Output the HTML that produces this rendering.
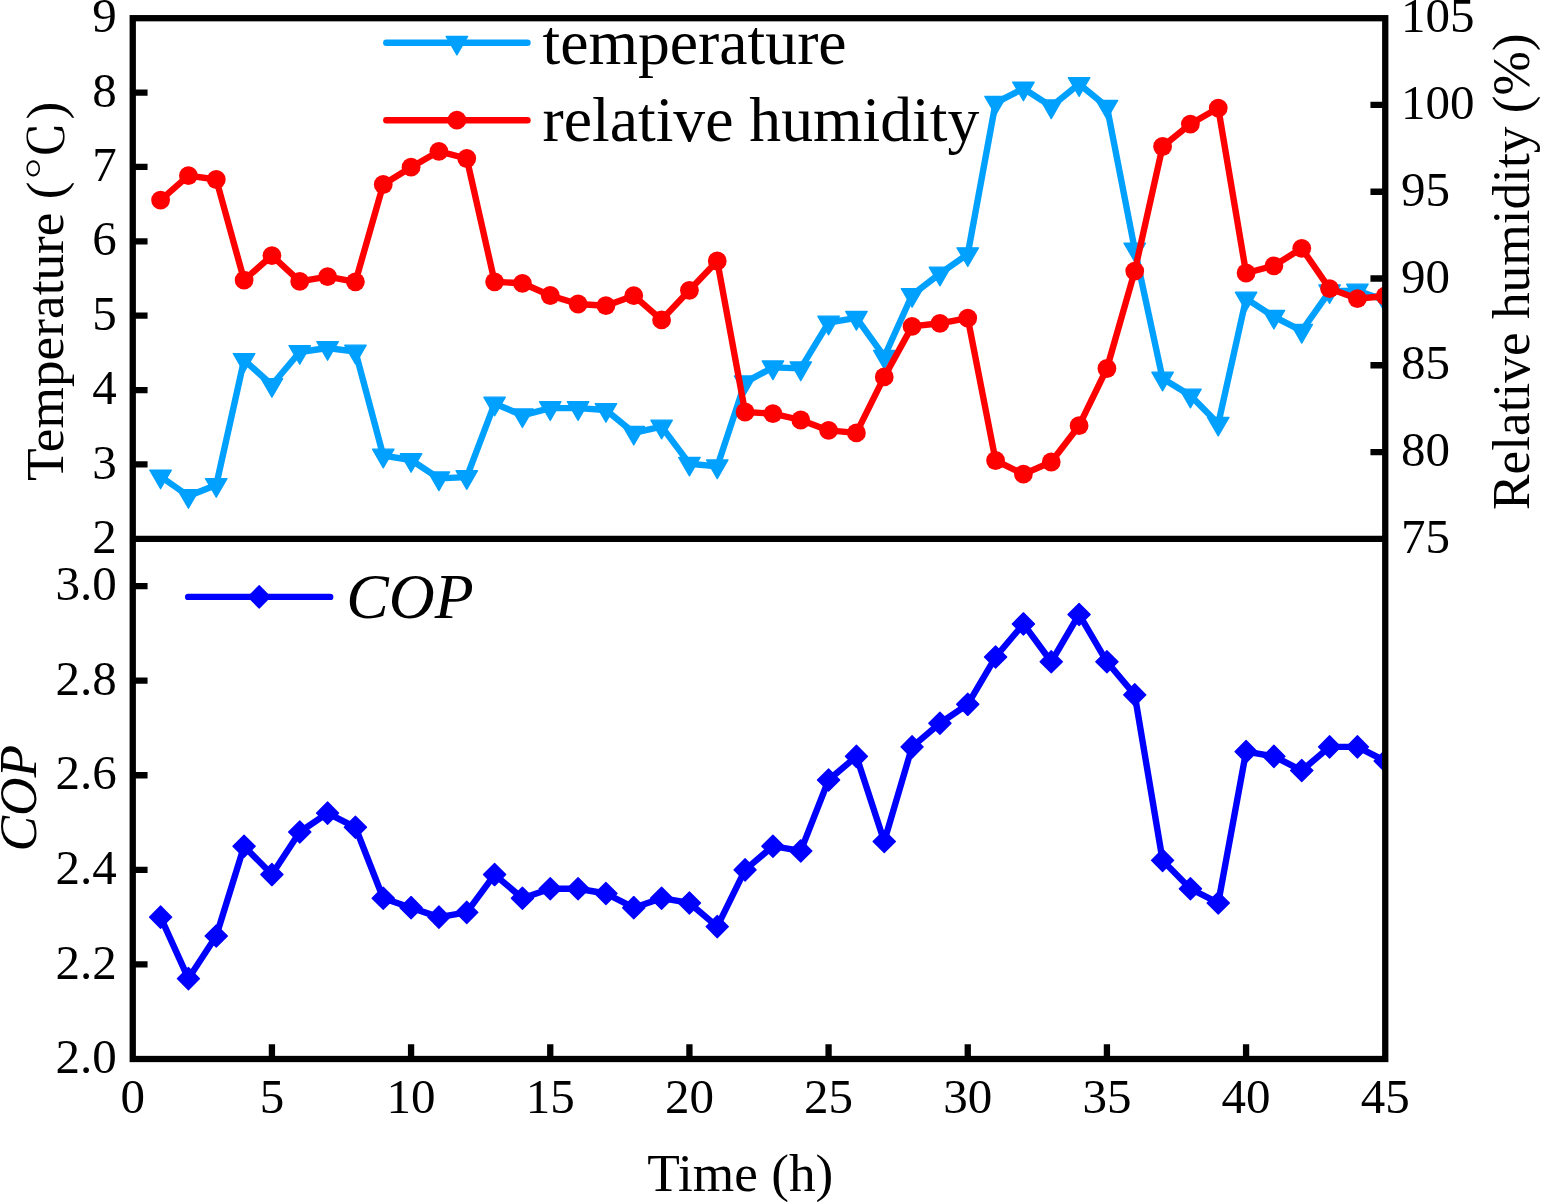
<!DOCTYPE html>
<html lang="en"><head><meta charset="utf-8"><title>Temperature, relative humidity and COP versus time</title>
<style>html,body{margin:0;padding:0;background:#fff}body{width:1541px;height:1202px;overflow:hidden}svg{display:block}text{font-family:"Liberation Serif","Noto Serif CJK SC",serif;fill:#000}.tk{font-size:49px}.ax{font-size:53.3px}.lg{font-size:63.7px}.it{font-style:italic}</style></head><body>
<svg width="1541" height="1202" viewBox="0 0 1541 1202">
<rect width="1541" height="1202" fill="#fff"/>
<defs><clipPath id="c1"><rect x="132.75" y="18.2" width="1252.5" height="520.6"/></clipPath><clipPath id="c2"><rect x="132.75" y="538.8" width="1252.5" height="520.2"/></clipPath></defs>
<g clip-path="url(#c1)">
<polyline points="160.58,476.5 188.42,496 216.25,485 244.08,360 271.92,385 299.75,352 327.58,348 355.42,351.6 383.25,455.6 411.08,460 438.92,478.4 466.75,477.1 494.58,403.6 522.42,415.3 550.25,408.1 578.08,408.1 605.92,410 633.75,432.8 661.58,426.6 689.42,463.7 717.25,466.4 745.08,382.4 772.92,367.4 800.75,368.4 828.58,322.6 856.42,317.9 884.25,356.7 912.08,295 939.92,273.6 967.75,254.2 995.58,102.8 1023.42,88.5 1051.25,106.4 1079.08,84.1 1106.92,106.7 1134.75,249.5 1162.58,378.6 1190.42,395.6 1218.25,423.8 1246.08,298.6 1273.92,316.7 1301.75,330.9 1329.58,291.3 1357.42,290.6 1385.25,300.6" fill="none" stroke="#00a0ff" stroke-width="6.4" stroke-linejoin="round" stroke-linecap="round"/>
<g fill="#00a0ff" stroke="#00a0ff" stroke-width="1.3" stroke-linejoin="round"><path d="M149.83 470.1L171.33 470.1L160.58 488.7Z"/><path d="M177.67 489.6L199.17 489.6L188.42 508.2Z"/><path d="M205.5 478.6L227 478.6L216.25 497.2Z"/><path d="M233.33 353.6L254.83 353.6L244.08 372.2Z"/><path d="M261.17 378.6L282.67 378.6L271.92 397.2Z"/><path d="M289 345.6L310.5 345.6L299.75 364.2Z"/><path d="M316.83 341.6L338.33 341.6L327.58 360.2Z"/><path d="M344.67 345.2L366.17 345.2L355.42 363.8Z"/><path d="M372.5 449.2L394 449.2L383.25 467.8Z"/><path d="M400.33 453.6L421.83 453.6L411.08 472.2Z"/><path d="M428.17 472L449.67 472L438.92 490.6Z"/><path d="M456 470.7L477.5 470.7L466.75 489.3Z"/><path d="M483.83 397.2L505.33 397.2L494.58 415.8Z"/><path d="M511.67 408.9L533.17 408.9L522.42 427.5Z"/><path d="M539.5 401.7L561 401.7L550.25 420.3Z"/><path d="M567.33 401.7L588.83 401.7L578.08 420.3Z"/><path d="M595.17 403.6L616.67 403.6L605.92 422.2Z"/><path d="M623 426.4L644.5 426.4L633.75 445Z"/><path d="M650.83 420.2L672.33 420.2L661.58 438.8Z"/><path d="M678.67 457.3L700.17 457.3L689.42 475.9Z"/><path d="M706.5 460L728 460L717.25 478.6Z"/><path d="M734.33 376L755.83 376L745.08 394.6Z"/><path d="M762.17 361L783.67 361L772.92 379.6Z"/><path d="M790 362L811.5 362L800.75 380.6Z"/><path d="M817.83 316.2L839.33 316.2L828.58 334.8Z"/><path d="M845.67 311.5L867.17 311.5L856.42 330.1Z"/><path d="M873.5 350.3L895 350.3L884.25 368.9Z"/><path d="M901.33 288.6L922.83 288.6L912.08 307.2Z"/><path d="M929.17 267.2L950.67 267.2L939.92 285.8Z"/><path d="M957 247.8L978.5 247.8L967.75 266.4Z"/><path d="M984.83 96.4L1006.33 96.4L995.58 115Z"/><path d="M1012.67 82.1L1034.17 82.1L1023.42 100.7Z"/><path d="M1040.5 100L1062 100L1051.25 118.6Z"/><path d="M1068.33 77.7L1089.83 77.7L1079.08 96.3Z"/><path d="M1096.17 100.3L1117.67 100.3L1106.92 118.9Z"/><path d="M1124 243.1L1145.5 243.1L1134.75 261.7Z"/><path d="M1151.83 372.2L1173.33 372.2L1162.58 390.8Z"/><path d="M1179.67 389.2L1201.17 389.2L1190.42 407.8Z"/><path d="M1207.5 417.4L1229 417.4L1218.25 436Z"/><path d="M1235.33 292.2L1256.83 292.2L1246.08 310.8Z"/><path d="M1263.17 310.3L1284.67 310.3L1273.92 328.9Z"/><path d="M1291 324.5L1312.5 324.5L1301.75 343.1Z"/><path d="M1318.83 284.9L1340.33 284.9L1329.58 303.5Z"/><path d="M1346.67 284.2L1368.17 284.2L1357.42 302.8Z"/><path d="M1374.5 294.2L1396 294.2L1385.25 312.8Z"/></g>
<polyline points="160.58,200.1 188.42,175.7 216.25,179.5 244.08,280.1 271.92,255.6 299.75,281.4 327.58,276.6 355.42,281.8 383.25,184.5 411.08,167.2 438.92,151.3 466.75,158.5 494.58,281.8 522.42,283.3 550.25,295.5 578.08,304 605.92,305.7 633.75,295.7 661.58,319.9 689.42,290.3 717.25,261 745.08,412 772.92,413.7 800.75,420 828.58,430.4 856.42,432.9 884.25,376.9 912.08,326.4 939.92,323.3 967.75,318.1 995.58,460.5 1023.42,474.1 1051.25,462 1079.08,425.7 1106.92,368.5 1134.75,271.1 1162.58,146.5 1190.42,124.1 1218.25,108.1 1246.08,273 1273.92,265.8 1301.75,248.3 1329.58,288.6 1357.42,298.7 1385.25,296" fill="none" stroke="#ff0000" stroke-width="6.4" stroke-linejoin="round" stroke-linecap="round"/>
<circle cx="160.58" cy="200.1" r="9.4" fill="#ff0000"/><circle cx="188.42" cy="175.7" r="9.4" fill="#ff0000"/><circle cx="216.25" cy="179.5" r="9.4" fill="#ff0000"/><circle cx="244.08" cy="280.1" r="9.4" fill="#ff0000"/><circle cx="271.92" cy="255.6" r="9.4" fill="#ff0000"/><circle cx="299.75" cy="281.4" r="9.4" fill="#ff0000"/><circle cx="327.58" cy="276.6" r="9.4" fill="#ff0000"/><circle cx="355.42" cy="281.8" r="9.4" fill="#ff0000"/><circle cx="383.25" cy="184.5" r="9.4" fill="#ff0000"/><circle cx="411.08" cy="167.2" r="9.4" fill="#ff0000"/><circle cx="438.92" cy="151.3" r="9.4" fill="#ff0000"/><circle cx="466.75" cy="158.5" r="9.4" fill="#ff0000"/><circle cx="494.58" cy="281.8" r="9.4" fill="#ff0000"/><circle cx="522.42" cy="283.3" r="9.4" fill="#ff0000"/><circle cx="550.25" cy="295.5" r="9.4" fill="#ff0000"/><circle cx="578.08" cy="304" r="9.4" fill="#ff0000"/><circle cx="605.92" cy="305.7" r="9.4" fill="#ff0000"/><circle cx="633.75" cy="295.7" r="9.4" fill="#ff0000"/><circle cx="661.58" cy="319.9" r="9.4" fill="#ff0000"/><circle cx="689.42" cy="290.3" r="9.4" fill="#ff0000"/><circle cx="717.25" cy="261" r="9.4" fill="#ff0000"/><circle cx="745.08" cy="412" r="9.4" fill="#ff0000"/><circle cx="772.92" cy="413.7" r="9.4" fill="#ff0000"/><circle cx="800.75" cy="420" r="9.4" fill="#ff0000"/><circle cx="828.58" cy="430.4" r="9.4" fill="#ff0000"/><circle cx="856.42" cy="432.9" r="9.4" fill="#ff0000"/><circle cx="884.25" cy="376.9" r="9.4" fill="#ff0000"/><circle cx="912.08" cy="326.4" r="9.4" fill="#ff0000"/><circle cx="939.92" cy="323.3" r="9.4" fill="#ff0000"/><circle cx="967.75" cy="318.1" r="9.4" fill="#ff0000"/><circle cx="995.58" cy="460.5" r="9.4" fill="#ff0000"/><circle cx="1023.42" cy="474.1" r="9.4" fill="#ff0000"/><circle cx="1051.25" cy="462" r="9.4" fill="#ff0000"/><circle cx="1079.08" cy="425.7" r="9.4" fill="#ff0000"/><circle cx="1106.92" cy="368.5" r="9.4" fill="#ff0000"/><circle cx="1134.75" cy="271.1" r="9.4" fill="#ff0000"/><circle cx="1162.58" cy="146.5" r="9.4" fill="#ff0000"/><circle cx="1190.42" cy="124.1" r="9.4" fill="#ff0000"/><circle cx="1218.25" cy="108.1" r="9.4" fill="#ff0000"/><circle cx="1246.08" cy="273" r="9.4" fill="#ff0000"/><circle cx="1273.92" cy="265.8" r="9.4" fill="#ff0000"/><circle cx="1301.75" cy="248.3" r="9.4" fill="#ff0000"/><circle cx="1329.58" cy="288.6" r="9.4" fill="#ff0000"/><circle cx="1357.42" cy="298.7" r="9.4" fill="#ff0000"/><circle cx="1385.25" cy="296" r="9.4" fill="#ff0000"/>
</g>
<g clip-path="url(#c2)">
<polyline points="160.58,917.13 188.42,978.61 216.25,936.05 244.08,846.19 271.92,874.57 299.75,832.01 327.58,813.09 355.42,827.28 383.25,898.21 411.08,907.67 438.92,917.13 466.75,912.4 494.58,874.57 522.42,898.21 550.25,888.76 578.08,888.76 605.92,893.48 633.75,907.67 661.58,898.21 689.42,902.94 717.25,926.59 745.08,869.84 772.92,846.19 800.75,850.92 828.58,779.99 856.42,756.34 884.25,841.47 912.08,746.89 939.92,723.24 967.75,704.33 995.58,657.03 1023.42,623.93 1051.25,661.76 1079.08,614.47 1106.92,661.76 1134.75,694.87 1162.58,860.38 1190.42,888.76 1218.25,902.94 1246.08,751.62 1273.92,756.34 1301.75,770.53 1329.58,746.89 1357.42,746.89 1385.25,761.07" fill="none" stroke="#0000ff" stroke-width="6.4" stroke-linejoin="round" stroke-linecap="round"/>
<g fill="#0000ff" stroke="#0000ff" stroke-width="1.3" stroke-linejoin="round"><path d="M160.58 906.03L171.68 917.13L160.58 928.23L149.48 917.13Z"/><path d="M188.42 967.51L199.52 978.61L188.42 989.71L177.32 978.61Z"/><path d="M216.25 924.95L227.35 936.05L216.25 947.15L205.15 936.05Z"/><path d="M244.08 835.09L255.18 846.19L244.08 857.29L232.98 846.19Z"/><path d="M271.92 863.47L283.02 874.57L271.92 885.67L260.82 874.57Z"/><path d="M299.75 820.91L310.85 832.01L299.75 843.11L288.65 832.01Z"/><path d="M327.58 801.99L338.68 813.09L327.58 824.19L316.48 813.09Z"/><path d="M355.42 816.18L366.52 827.28L355.42 838.38L344.32 827.28Z"/><path d="M383.25 887.11L394.35 898.21L383.25 909.31L372.15 898.21Z"/><path d="M411.08 896.57L422.18 907.67L411.08 918.77L399.98 907.67Z"/><path d="M438.92 906.03L450.02 917.13L438.92 928.23L427.82 917.13Z"/><path d="M466.75 901.3L477.85 912.4L466.75 923.5L455.65 912.4Z"/><path d="M494.58 863.47L505.68 874.57L494.58 885.67L483.48 874.57Z"/><path d="M522.42 887.11L533.52 898.21L522.42 909.31L511.32 898.21Z"/><path d="M550.25 877.66L561.35 888.76L550.25 899.86L539.15 888.76Z"/><path d="M578.08 877.66L589.18 888.76L578.08 899.86L566.98 888.76Z"/><path d="M605.92 882.38L617.02 893.48L605.92 904.58L594.82 893.48Z"/><path d="M633.75 896.57L644.85 907.67L633.75 918.77L622.65 907.67Z"/><path d="M661.58 887.11L672.68 898.21L661.58 909.31L650.48 898.21Z"/><path d="M689.42 891.84L700.52 902.94L689.42 914.04L678.32 902.94Z"/><path d="M717.25 915.49L728.35 926.59L717.25 937.69L706.15 926.59Z"/><path d="M745.08 858.74L756.18 869.84L745.08 880.94L733.98 869.84Z"/><path d="M772.92 835.09L784.02 846.19L772.92 857.29L761.82 846.19Z"/><path d="M800.75 839.82L811.85 850.92L800.75 862.02L789.65 850.92Z"/><path d="M828.58 768.89L839.68 779.99L828.58 791.09L817.48 779.99Z"/><path d="M856.42 745.24L867.52 756.34L856.42 767.44L845.32 756.34Z"/><path d="M884.25 830.37L895.35 841.47L884.25 852.57L873.15 841.47Z"/><path d="M912.08 735.79L923.18 746.89L912.08 757.99L900.98 746.89Z"/><path d="M939.92 712.14L951.02 723.24L939.92 734.34L928.82 723.24Z"/><path d="M967.75 693.23L978.85 704.33L967.75 715.43L956.65 704.33Z"/><path d="M995.58 645.93L1006.68 657.03L995.58 668.13L984.48 657.03Z"/><path d="M1023.42 612.83L1034.52 623.93L1023.42 635.03L1012.32 623.93Z"/><path d="M1051.25 650.66L1062.35 661.76L1051.25 672.86L1040.15 661.76Z"/><path d="M1079.08 603.37L1090.18 614.47L1079.08 625.57L1067.98 614.47Z"/><path d="M1106.92 650.66L1118.02 661.76L1106.92 672.86L1095.82 661.76Z"/><path d="M1134.75 683.77L1145.85 694.87L1134.75 705.97L1123.65 694.87Z"/><path d="M1162.58 849.28L1173.68 860.38L1162.58 871.48L1151.48 860.38Z"/><path d="M1190.42 877.66L1201.52 888.76L1190.42 899.86L1179.32 888.76Z"/><path d="M1218.25 891.84L1229.35 902.94L1218.25 914.04L1207.15 902.94Z"/><path d="M1246.08 740.51L1257.18 751.62L1246.08 762.72L1234.98 751.62Z"/><path d="M1273.92 745.24L1285.02 756.34L1273.92 767.44L1262.82 756.34Z"/><path d="M1301.75 759.43L1312.85 770.53L1301.75 781.63L1290.65 770.53Z"/><path d="M1329.58 735.79L1340.68 746.89L1329.58 757.99L1318.48 746.89Z"/><path d="M1357.42 735.79L1368.52 746.89L1357.42 757.99L1346.32 746.89Z"/><path d="M1385.25 749.97L1396.35 761.07L1385.25 772.17L1374.15 761.07Z"/></g>
</g>
<line x1="386.3" y1="42.7" x2="527.5" y2="42.7" stroke="#00a0ff" stroke-width="6.4" stroke-linecap="round"/>
<g fill="#00a0ff" stroke="#00a0ff" stroke-width="1.3" stroke-linejoin="round"><path d="M446.15 36.3L467.65 36.3L456.9 54.9Z"/></g>
<line x1="386.3" y1="120.2" x2="527.5" y2="120.2" stroke="#ff0000" stroke-width="6.4" stroke-linecap="round"/>
<circle cx="456.9" cy="120.2" r="9.4" fill="#ff0000"/>
<text class="lg" x="542.5" y="64">temperature</text>
<text class="lg" x="542.5" y="141.4">relative humidity</text>
<line x1="188.2" y1="596.9" x2="330.2" y2="596.9" stroke="#0000ff" stroke-width="6.4" stroke-linecap="round"/>
<g fill="#0000ff" stroke="#0000ff" stroke-width="1.3" stroke-linejoin="round"><path d="M259.2 585.8L270.3 596.9L259.2 608L248.1 596.9Z"/></g>
<text class="lg it" x="346.3" y="618.3">COP</text>
<g fill="none" stroke="#000" stroke-width="6.3" stroke-linecap="butt" stroke-linejoin="miter"><rect x="132.75" y="18.2" width="1252.5" height="1040.8"/><path d="M132.75 538.8H1385.25M132.75 464.43h14.8M132.75 390.06h14.8M132.75 315.69h14.8M132.75 241.31h14.8M132.75 166.94h14.8M132.75 92.57h14.8M1385.25 452.03h-14.8M1385.25 365.27h-14.8M1385.25 278.5h-14.8M1385.25 191.73h-14.8M1385.25 104.97h-14.8M132.75 964.42h14.8M132.75 869.84h14.8M132.75 775.26h14.8M132.75 680.68h14.8M132.75 586.1h14.8M271.92 1059v-14.8M411.08 1059v-14.8M550.25 1059v-14.8M689.42 1059v-14.8M828.58 1059v-14.8M967.75 1059v-14.8M1106.92 1059v-14.8M1246.08 1059v-14.8"/></g>
<g class="tk" text-anchor="end">
<text x="116.85" y="552.95">2</text>
<text x="116.85" y="478.58">3</text>
<text x="116.85" y="404.21">4</text>
<text x="116.85" y="329.84">5</text>
<text x="116.85" y="255.46">6</text>
<text x="116.85" y="181.09">7</text>
<text x="116.85" y="106.72">8</text>
<text x="116.85" y="32.35">9</text>
<text x="116.85" y="1073.15">2.0</text>
<text x="116.85" y="978.57">2.2</text>
<text x="116.85" y="883.99">2.4</text>
<text x="116.85" y="789.41">2.6</text>
<text x="116.85" y="694.83">2.8</text>
<text x="116.85" y="600.25">3.0</text>
</g>
<g class="tk" text-anchor="start">
<text x="1400.9" y="552.95">75</text>
<text x="1400.9" y="466.18">80</text>
<text x="1400.9" y="379.42">85</text>
<text x="1400.9" y="292.65">90</text>
<text x="1400.9" y="205.88">95</text>
<text x="1400.9" y="119.12">100</text>
<text x="1400.9" y="32.35">105</text>
</g>
<g class="tk" text-anchor="middle">
<text x="132.75" y="1113.1">0</text>
<text x="271.92" y="1113.1">5</text>
<text x="411.08" y="1113.1">10</text>
<text x="550.25" y="1113.1">15</text>
<text x="689.42" y="1113.1">20</text>
<text x="828.58" y="1113.1">25</text>
<text x="967.75" y="1113.1">30</text>
<text x="1106.92" y="1113.1">35</text>
<text x="1246.08" y="1113.1">40</text>
<text x="1385.25" y="1113.1">45</text>
</g>
<text class="ax" text-anchor="start" transform="translate(63.3 481) rotate(-90)">Temperature (<tspan dx="0.5" font-size="47.5" textLength="60" lengthAdjust="spacingAndGlyphs">℃</tspan><tspan dx="1.5">)</tspan></text>
<text class="ax it" text-anchor="middle" transform="translate(36 798.2) rotate(-90)">COP</text>
<text class="ax" text-anchor="middle" transform="translate(1529.4 271.7) rotate(-90)">Relative humidity (%)</text>
<text class="ax" text-anchor="middle" x="740.3" y="1191">Time (h)</text>
</svg></body></html>
